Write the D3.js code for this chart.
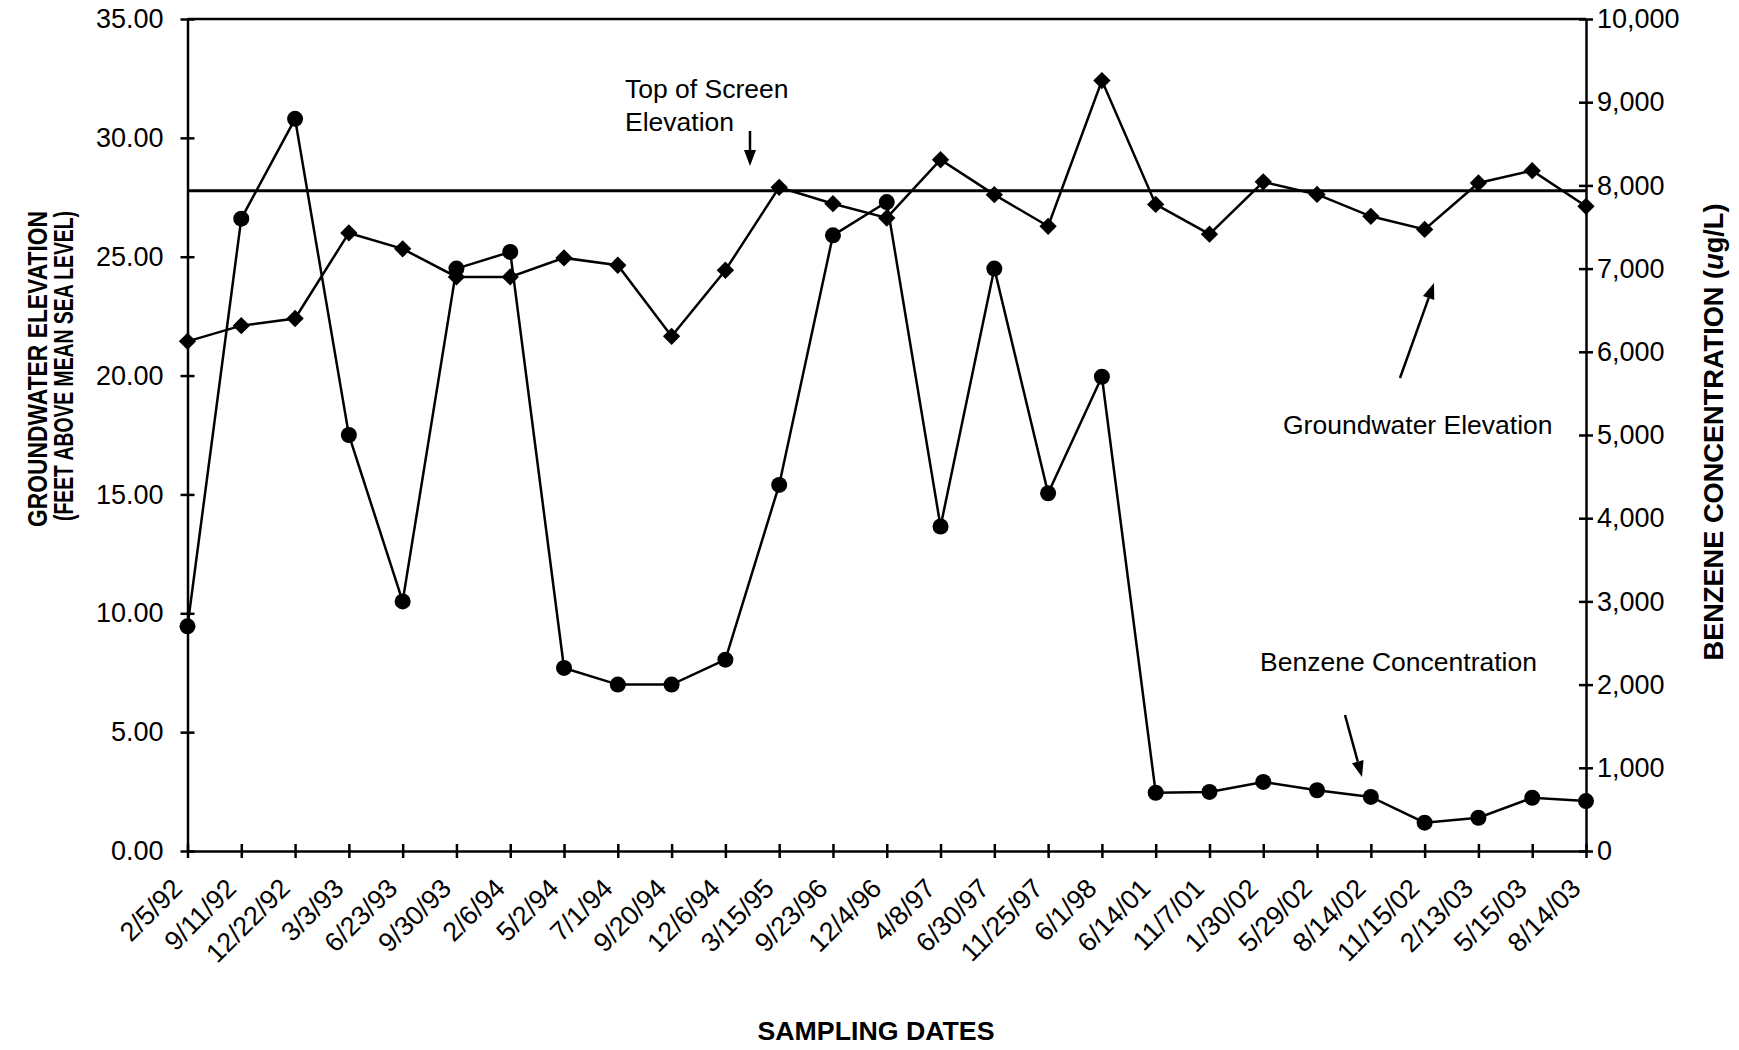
<!DOCTYPE html>
<meta charset="utf-8">
<style>
body { margin: 0; background: #fff; }
text { font-family: "Liberation Sans", Arial, sans-serif; fill: #000; }
.axis path, .axis line { stroke: #000; stroke-width: 2.5; }
.axis text { font-size: 27px; fill: #000; }
.series { fill: none; stroke: #000; stroke-width: 2.5; }
.screen { stroke: #000; stroke-width: 3; }
.title { font-size: 24px; font-weight: bold; }
.note { font-size: 26.5px; }
</style>
<div id="chart"></div>
<script src="https://d3js.org/d3.v7.min.js"></script>
<script>

// sampling dates (category axis)
var dates = ["2/5/92", "9/11/92", "12/22/92", "3/3/93", "6/23/93", "9/30/93", "2/6/94",
  "5/2/94", "7/1/94", "9/20/94", "12/6/94", "3/15/95", "9/23/96", "12/4/96", "4/8/97",
  "6/30/97", "11/25/97", "6/1/98", "6/14/01", "11/7/01", "1/30/02", "5/29/02", "8/14/02",
  "11/15/02", "2/13/03", "5/15/03", "8/14/03"];

// groundwater elevation, feet above MSL (left axis)
var groundwater = [21.44, 22.10, 22.40, 26.00, 25.33, 24.15, 24.15, 24.95, 24.64, 21.65,
  24.43, 27.92, 27.23, 26.63, 29.08, 27.61, 26.28, 32.41, 27.20, 25.95, 28.15, 27.62,
  26.70, 26.15, 28.10, 28.62, 27.12];

// benzene concentration, ug/L (right axis)
var benzene = [2700, 7600, 8800, 5000, 3000, 7000, 7200, 2200, 2000, 2000, 2300, 4400,
  7400, 7800, 3900, 7000, 4300, 5700, 700, 710, 830, 730, 650, 340, 400, 640, 600];

var topOfScreen = 27.78;

var leftTicks = [0, 5, 10, 15, 20, 25, 30, 35];
var rightTicks = [0, 1000, 2000, 3000, 4000, 5000, 6000, 7000, 8000, 9000, 10000];

var margin = {top: 19, right: 153, bottom: 199, left: 187.5};
var width = 1739 - margin.left - margin.right;
var height = 1050 - margin.top - margin.bottom;

var svg = d3.select("#chart").append("svg")
    .attr("width", 1739)
    .attr("height", 1050)
    .style("background", "#fff");
var g = svg.append("g").attr("transform", "translate(" + margin.left + "," + margin.top + ")");

var x = d3.scalePoint().domain(dates).range([0, width]).padding(0);
var yL = d3.scaleLinear().domain([0, 35]).range([height, 0]);
var yR = d3.scaleLinear().domain([0, 10000]).range([height, 0]);

// frame top
g.append("line").attr("class", "screen")
    .attr("x1", 0).attr("x2", width).attr("y1", 0).attr("y2", 0)
    .style("stroke-width", 2.5);

// axes
var xAxis = g.append("g").attr("class", "axis")
    .attr("transform", "translate(0," + height + ")")
    .call(d3.axisBottom(x).tickSize(7).tickSizeOuter(0));
xAxis.selectAll(".tick line").attr("y1", -7);
xAxis.selectAll(".tick text")
    .attr("y", 0).attr("dy", null)
    .attr("text-anchor", "end")
    .attr("transform", "translate(-4,39) rotate(-45)");

var leftAxis = g.append("g").attr("class", "axis")
    .call(d3.axisLeft(yL).tickValues(leftTicks).tickFormat(d3.format(".2f")).tickSize(7).tickSizeOuter(0));
leftAxis.selectAll(".tick line").attr("x1", 7);
leftAxis.selectAll(".tick text").attr("x", -24);

var rightAxis = g.append("g").attr("class", "axis")
    .attr("transform", "translate(" + width + ",0)")
    .call(d3.axisRight(yR).tickValues(rightTicks).tickFormat(d3.format(",")).tickSize(7).tickSizeOuter(0));
rightAxis.selectAll(".tick line").attr("x1", -7);
rightAxis.selectAll(".tick text").attr("x", 11);

// top of screen elevation
g.append("line").attr("class", "screen")
    .attr("x1", 0).attr("x2", width)
    .attr("y1", yL(topOfScreen)).attr("y2", yL(topOfScreen));

// groundwater series
var gwLine = d3.line().x(function(d, i) { return x(dates[i]); }).y(function(d) { return yL(d); });
g.append("path").datum(groundwater).attr("class", "series").attr("d", gwLine);
g.selectAll(".dot-gw")
    .data(groundwater)
  .enter().append("path")
    .attr("class", "dot-gw")
    .attr("d", d3.symbol().type(d3.symbolSquare).size(150))
    .attr("transform", function(d, i) { return "translate(" + x(dates[i]) + "," + yL(d) + ") rotate(45)"; })
    .style("fill", "#000");

// benzene series
var bzLine = d3.line().x(function(d, i) { return x(dates[i]); }).y(function(d) { return yR(d); });
g.append("path").datum(benzene).attr("class", "series").attr("d", bzLine);
g.selectAll(".dot-bz")
    .data(benzene)
  .enter().append("circle")
    .attr("class", "dot-bz")
    .attr("cx", function(d, i) { return x(dates[i]); })
    .attr("cy", function(d) { return yR(d); })
    .attr("r", 8)
    .style("fill", "#000");

// axis titles
svg.append("text").attr("class", "title")
    .attr("transform", "translate(37,369) rotate(-90)")
    .attr("text-anchor", "middle").attr("dy", "0.35em")
    .attr("textLength", 316).attr("lengthAdjust", "spacingAndGlyphs")
    .style("font-size", "28px")
    .text("GROUNDWATER ELEVATION");
svg.append("text").attr("class", "title")
    .attr("transform", "translate(63,366) rotate(-90)")
    .attr("text-anchor", "middle").attr("dy", "0.35em")
    .attr("textLength", 310).attr("lengthAdjust", "spacingAndGlyphs")
    .style("font-size", "28px")
    .text("(FEET ABOVE MEAN SEA LEVEL)");

var rt = svg.append("text").attr("class", "title")
    .attr("transform", "translate(1714,432) rotate(-90)")
    .attr("text-anchor", "middle").attr("dy", "0.35em")
    .attr("textLength", 457).attr("lengthAdjust", "spacingAndGlyphs")
    .style("font-size", "27px");
rt.append("tspan").text("BENZENE CONCENTRATION (");
rt.append("tspan").style("font-style", "italic").text("u");
rt.append("tspan").text("g/L)");

svg.append("text").attr("class", "title")
    .attr("x", 876).attr("y", 1040)
    .attr("text-anchor", "middle")
    .attr("textLength", 237).attr("lengthAdjust", "spacingAndGlyphs")
    .style("font-size", "26px")
    .text("SAMPLING DATES");

// annotations
function arrow(x1, y1, x2, y2) {
  var a = Math.atan2(y2 - y1, x2 - x1), len = 16, w = 6;
  var bx = x2 - len * Math.cos(a), by = y2 - len * Math.sin(a);
  svg.append("line")
      .attr("x1", x1).attr("y1", y1).attr("x2", bx).attr("y2", by)
      .style("stroke", "#000").style("stroke-width", 2.5);
  svg.append("path")
      .attr("d", "M" + x2 + "," + y2 +
        "L" + (bx + w * Math.sin(a)) + "," + (by - w * Math.cos(a)) +
        "L" + (bx - w * Math.sin(a)) + "," + (by + w * Math.cos(a)) + "Z")
      .style("fill", "#000");
}

svg.append("text").attr("class", "note").attr("x", 625).attr("y", 98).text("Top of Screen");
svg.append("text").attr("class", "note").attr("x", 625).attr("y", 131).text("Elevation");
arrow(750, 131, 750, 166);

svg.append("text").attr("class", "note").attr("x", 1283).attr("y", 434).text("Groundwater Elevation");
arrow(1400, 378, 1434, 283);

svg.append("text").attr("class", "note").attr("x", 1260).attr("y", 671).text("Benzene Concentration");
arrow(1345, 715, 1362, 777);

</script>
